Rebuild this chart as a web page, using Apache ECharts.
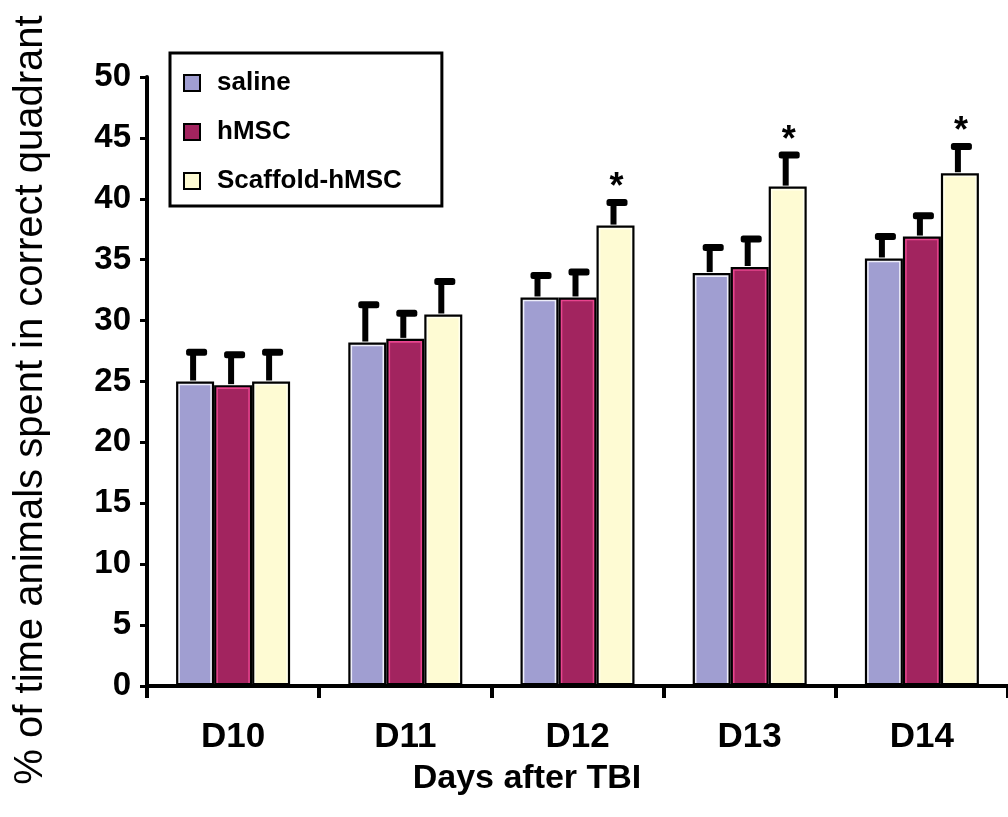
<!DOCTYPE html>
<html>
<head>
<meta charset="utf-8">
<script src="https://cdn.jsdelivr.net/npm/echarts@6/dist/echarts.min.js"></script>
<style>
html,body{margin:0;padding:0;background:#fff;}
#c{width:1008px;height:817px;}
</style>
</head>
<body>
<div id="c"></div>
<script>
const categories = ['D10', 'D11', 'D12', 'D13', 'D14'];
const seriesNames = ['saline', 'hMSC', 'Scaffold-hMSC'];
const saline = [25.0, 28.2, 31.9, 33.9, 35.1];
const hMSC = [24.7, 28.5, 31.9, 34.4, 36.9];
const scaffold = [25.0, 30.5, 37.8, 41.0, 42.1];
const salineErr = [2.4, 3.1, 1.8, 2.1, 1.8];
const hMSCErr = [2.5, 2.1, 2.1, 2.3, 1.7];
const scaffoldErr = [2.4, 2.7, 1.9, 2.6, 2.2];
const scaffoldSig = ['', '', '*', '*', '*'];
const yTicks = [0, 5, 10, 15, 20, 25, 30, 35, 40, 45, 50];

const BW = 38;
const fills = ['#a09ed1', '#a2245f', '#fefbd3'];
const inner = ['#eeeefa', '#e9448f', '#ffffee'];
const FONT = '"Liberation Sans", Arial, Helvetica, sans-serif';

const values = [saline, hMSC, scaffold];
const errs = [salineErr, hMSCErr, scaffoldErr];
const sigs = [['', '', '', '', ''], ['', '', '', '', ''], scaffoldSig];

function makeRender(k) {
  return function (params, api) {
    const i = api.value(0);
    const v = api.value(1);
    const e = api.value(2);
    const sig = sigs[k][i];
    const top = api.coord([i, v]);
    const base = api.coord([i, 0]);
    const cap = api.coord([i, v + e]);
    const cx = top[0] + (k - 1) * BW;
    const xl = cx - BW / 2 + 3, xr = cx + BW / 2 - 3, yt = top[1] + 3, yb = base[1] - 3;
    const children = [
      {
        type: 'polyline',
        shape: { points: [[xl, yb], [xl, yt], [xr, yt], [xr, yb]] },
        style: { fill: null, stroke: inner[k], lineWidth: 1.6 }
      },
      {
        type: 'rect',
        shape: { x: cx - 5, y: cap[1], width: 6, height: top[1] - cap[1] - 1 },
        style: { fill: '#000' }
      },
      {
        type: 'rect',
        shape: { x: cx - 9, y: cap[1] - 3.5, width: 21, height: 7, r: 2.5 },
        style: { fill: '#000' }
      }
    ];
    if (sig) {
      children.push({
        type: 'text',
        style: {
          text: sig, x: cx + 1, y: cap[1] - 14,
          align: 'center', verticalAlign: 'middle',
          font: 'bold 36px ' + FONT, fill: '#000'
        }
      });
    }
    return { type: 'group', children: children };
  };
}

const barSeries = seriesNames.map((name, k) => ({
  name: name,
  type: 'bar',
  data: values[k],
  barWidth: BW,
  barGap: '0%',
  itemStyle: { color: fills[k], borderColor: '#000', borderWidth: 3 },
  z: 2
}));

const errSeries = seriesNames.map((name, k) => ({
  name: name + ' err',
  type: 'custom',
  data: values[k].map((v, i) => [i, v, errs[k][i]]),
  encode: { x: 0, y: 1 },
  renderItem: makeRender(k),
  z: 3,
  silent: true
}));

const chart = echarts.init(document.getElementById('c'), null, { renderer: 'canvas' });
chart.setOption({
  animation: false,
  backgroundColor: '#fff',
  textStyle: { fontFamily: FONT },
  grid: { left: 147, right: 0, top: 77, bottom: 131, containLabel: false },
  legend: {
    data: seriesNames,
    orient: 'vertical',
    left: 170,
    top: 53,
    borderColor: '#000',
    borderWidth: 3,
    padding: [17, 40, 12, 13],
    itemGap: 23,
    itemWidth: 16,
    itemHeight: 16,
    icon: 'rect',
    textStyle: { fontFamily: FONT, fontWeight: 'bold', fontSize: 26, color: '#000', padding: [0, 0, 0, 12] }
  },
  xAxis: {
    type: 'category',
    data: categories,
    axisLine: { lineStyle: { color: '#000', width: 4 } },
    axisTick: { show: true, alignWithLabel: false, length: 12, lineStyle: { color: '#000', width: 4 } },
    axisLabel: { color: '#000', fontFamily: FONT, fontWeight: 'bold', fontSize: 35, margin: 34 },
    splitLine: { show: false }
  },
  yAxis: {
    type: 'value',
    min: yTicks[0],
    max: yTicks[yTicks.length - 1],
    interval: 5,
    axisLine: { show: true, lineStyle: { color: '#000', width: 4 } },
    axisTick: { show: true, length: 7, lineStyle: { color: '#000', width: 3 } },
    axisLabel: { color: '#000', fontFamily: FONT, fontWeight: 'bold', fontSize: 33, margin: 16 },
    splitLine: { show: false }
  },
  graphic: [
    {
      type: 'text',
      x: 31, y: 400,
      rotation: Math.PI / 2,
      style: {
        text: '% of time animals spent in correct quadrant',
        align: 'center', verticalAlign: 'middle',
        font: '40px ' + FONT, fill: '#000'
      }
    },
    {
      type: 'text',
      x: 527, y: 779,
      style: {
        text: 'Days after TBI',
        align: 'center', verticalAlign: 'middle',
        font: 'bold 34px ' + FONT, fill: '#000'
      }
    }
  ],
  series: barSeries.concat(errSeries)
});
</script>
</body>
</html>
